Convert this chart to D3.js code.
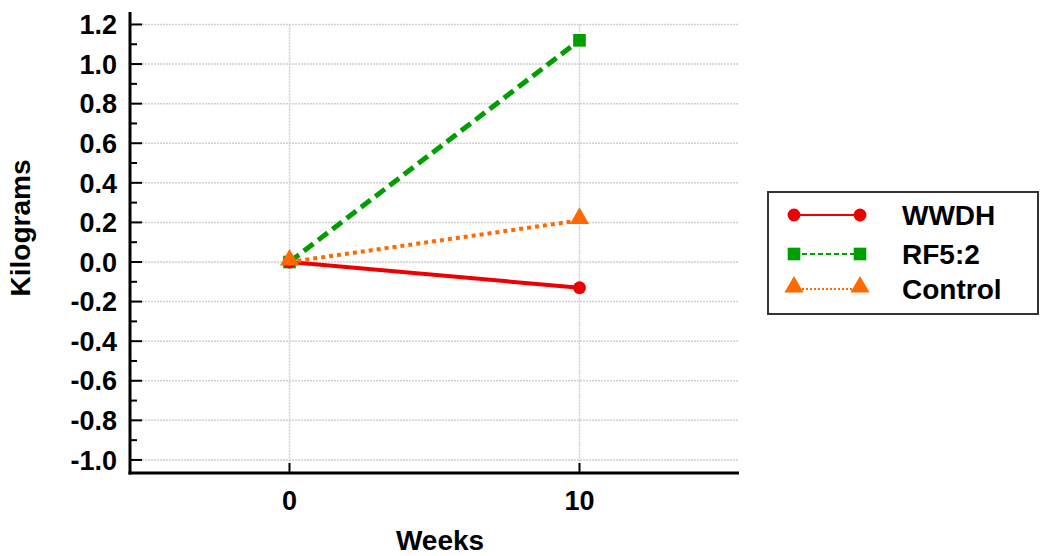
<!DOCTYPE html>
<html>
<head>
  <meta charset="utf-8">
  <title>D3</title>
  <script src="https://d3js.org/d3.v7.min.js"></script>
  <style>
    body { margin: 0; background: #fff; }
    text { font-family: Arial, "Liberation Sans", sans-serif; font-weight: bold; }
  </style>
</head>
<body>
<script>
var weeks = [0, 10];
var seriesNames = ["WWDH", "RF5:2", "Control"];
var wwdh = [0, -0.13];
var rf52 = [0, 1.12];
var control = [0, 0.21];
var yTicks = [-1.0, -0.8, -0.6, -0.4, -0.2, 0.0, 0.2, 0.4, 0.6, 0.8, 1.0, 1.2];
var xTicks = [0, 10];

var w = 1047, h = 556;
var mLeft = 130, mRight = 739, mTop = 12, mBottom = 473;

var x = d3.scaleLinear().domain([-5.5, 15.5]).range([mLeft, mRight]);
var y = d3.scaleLinear().domain([-1.066, 1.263]).range([mBottom, mTop]);

var svg = d3.select("body").append("svg").attr("width", w).attr("height", h);

var series = [
  {name: seriesNames[0], vals: wwdh, color: "#ee0000", dash: null, width: 4, shape: d3.symbolCircle, size: 130},
  {name: seriesNames[1], vals: rf52, color: "#009e00", dash: "12,6", width: 5, shape: d3.symbolSquare, size: 160},
  {name: seriesNames[2], vals: control, color: "#ff6a00", dash: "4,4", width: 4, shape: d3.symbolTriangle, size: 160}
];

// grid
svg.selectAll(".hg").data(yTicks).enter().append("line")
  .attr("x1", mLeft).attr("x2", mRight)
  .attr("y1", function(d){return y(d);}).attr("y2", function(d){return y(d);})
  .attr("stroke", "#d0d0d0").attr("stroke-width", 1.5).attr("stroke-dasharray", "2,1");
svg.selectAll(".vg").data(xTicks).enter().append("line")
  .attr("x1", function(d){return x(d);}).attr("x2", function(d){return x(d);})
  .attr("y1", y(1.2)).attr("y2", mBottom)
  .attr("stroke", "#d0d0d0").attr("stroke-width", 1.5).attr("stroke-dasharray", "2,1");

// y axis
var minor = d3.range(-1.0, 1.25, 0.1).filter(function(d){return Math.abs(Math.round(d*10)) % 2 === 1;});
svg.selectAll(".mt").data(minor).enter().append("line")
  .attr("x1", mLeft).attr("x2", mLeft + 7)
  .attr("y1", function(d){return y(d);}).attr("y2", function(d){return y(d);})
  .attr("stroke", "#000").attr("stroke-width", 2);
svg.selectAll(".Mt").data(yTicks).enter().append("line")
  .attr("x1", mLeft).attr("x2", mLeft + 12)
  .attr("y1", function(d){return y(d);}).attr("y2", function(d){return y(d);})
  .attr("stroke", "#000").attr("stroke-width", 2);
svg.selectAll(".yl").data(yTicks).enter().append("text")
  .attr("x", 117).attr("y", function(d){return y(d);}).attr("dy", "0.36em")
  .attr("text-anchor", "end").attr("font-size", "27px")
  .text(function(d){return d3.format(".1f")(d).replace("−", "-");});

// x axis
svg.selectAll(".xt").data(xTicks).enter().append("line")
  .attr("x1", function(d){return x(d);}).attr("x2", function(d){return x(d);})
  .attr("y1", mBottom).attr("y2", mBottom - 10)
  .attr("stroke", "#000").attr("stroke-width", 2);
svg.selectAll(".xl").data(xTicks).enter().append("text")
  .attr("x", function(d){return x(d);}).attr("y", 510)
  .attr("text-anchor", "middle").attr("font-size", "27px")
  .text(function(d){return d;});

svg.append("line").attr("x1", mLeft).attr("x2", mLeft).attr("y1", mTop).attr("y2", mBottom + 1.5)
  .attr("stroke", "#000").attr("stroke-width", 3);
svg.append("line").attr("x1", mLeft - 1.5).attr("x2", mRight).attr("y1", mBottom).attr("y2", mBottom)
  .attr("stroke", "#000").attr("stroke-width", 3);

// titles
svg.append("text").attr("transform", "translate(30,228) rotate(-90)")
  .attr("text-anchor", "middle").attr("font-size", "28px").text("Kilograms");
svg.append("text").attr("x", 440).attr("y", 550)
  .attr("text-anchor", "middle").attr("font-size", "28px").text("Weeks");

// lines and markers
var line = d3.line().x(function(d, i){return x(weeks[i]);}).y(function(d){return y(d);});
[series[1], series[0], series[2]].forEach(function(s) {
  svg.append("path").attr("d", line(s.vals))
    .attr("fill", "none").attr("stroke", s.color).attr("stroke-width", s.width)
    .attr("stroke-dasharray", s.dash);
  svg.selectAll(null).data(s.vals).enter().append("path")
    .attr("transform", function(d, i){return "translate(" + x(weeks[i]) + "," + (y(d) + (s.shape === d3.symbolTriangle ? -2 : 0)) + ")";})
    .attr("d", d3.symbol().type(s.shape).size(s.size))
    .attr("fill", s.color);
});

// legend
var lg = svg.append("g");
lg.append("rect").attr("x", 768).attr("y", 192).attr("width", 270).attr("height", 122)
  .attr("fill", "#fff").attr("stroke", "#333").attr("stroke-width", 2);
var rowsY = [215, 254, 289];
series.forEach(function(s, i) {
  var ly = rowsY[i];
  lg.append("line").attr("x1", 794).attr("x2", 860).attr("y1", ly).attr("y2", ly)
    .attr("stroke", s.color).attr("stroke-width", 2)
    .attr("stroke-dasharray", s.dash ? (i === 1 ? "5,3" : "2,2") : null);
  [794, 860].forEach(function(px) {
    lg.append("path").attr("transform", "translate(" + px + "," + (ly + (s.shape === d3.symbolTriangle ? -2 : 0)) + ")")
      .attr("d", d3.symbol().type(s.shape).size(s.size)).attr("fill", s.color);
  });
  lg.append("text").attr("x", 902).attr("y", ly).attr("dy", "0.36em")
    .attr("font-size", "28px").text(s.name);
});
</script>
</body>
</html>
